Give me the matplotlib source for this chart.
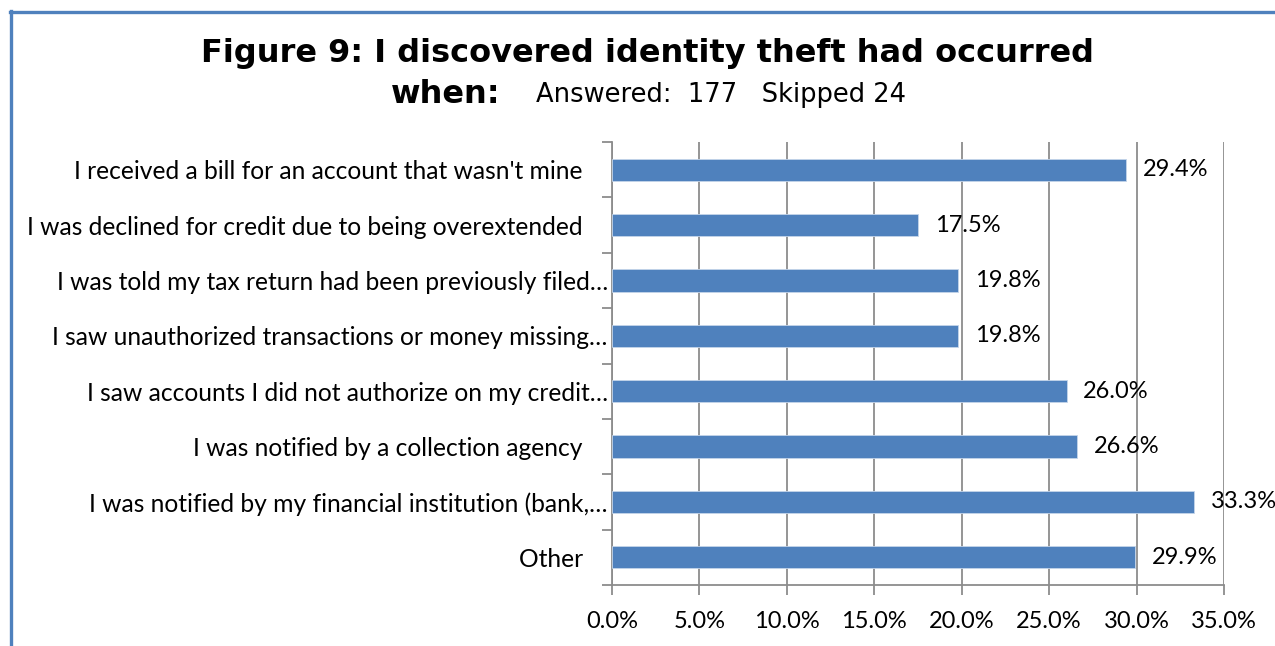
import matplotlib.pyplot as plt
from matplotlib.lines import Line2D
from matplotlib.ticker import FixedLocator, FuncFormatter

answers = [
    "I received a bill for an account that wasn't mine    ",
    "I was declined for credit due to being overextended    ",
    "I was told my tax return had been previously filed\u2026",
    "I saw unauthorized transactions or money missing\u2026",
    "I saw accounts I did not authorize on my credit\u2026",
    "I was notified by a collection agency    ",
    "I was notified by my financial institution (bank,\u2026",
    "Other    ",
]
percent = [29.4, 17.5, 19.8, 19.8, 26.0, 26.6, 33.3, 29.9]
x_ticks = [0, 5, 10, 15, 20, 25, 30, 35]

blue = "#4F81BD"
grid_gray = "#8C8C8C"
label_font = "Lato"

fig = plt.figure(figsize=(12.75, 6.46), dpi=100)
fig.patch.set_facecolor("white")

# frame around the figure: top and left edges only
fig.add_artist(Line2D([9.5 / 1275, 1.0], [1 - 12 / 646, 1 - 12 / 646],
                      transform=fig.transFigure, color=blue, lw=2.4))
fig.add_artist(Line2D([10.5 / 1275, 10.5 / 1275], [0.0, 1 - 11 / 646],
                      transform=fig.transFigure, color=blue, lw=2.4))

fig.text(0.508, 0.917, "Figure 9: I discovered identity theft had occurred",
         ha="center", va="center", fontsize=23, fontweight="bold",
         family="DejaVu Sans")
fig.text(500 / 1275, 0.853, "when:", ha="right", va="center", fontsize=23,
         fontweight="bold", family="DejaVu Sans")
fig.text(536 / 1275, 0.853, "Answered:  177   Skipped 24", ha="left",
         va="center", fontsize=18.5, family="DejaVu Sans")

ax = fig.add_axes([612 / 1275, 61 / 646, 612 / 1275, 443 / 646])
pos = list(range(len(answers)))
ax.barh(pos, percent, height=0.4, color=blue, edgecolor="#C5D5EA",
        linewidth=0.6, zorder=3)
ax.set_ylim(len(answers) - 0.5, -0.5)
ax.set_xlim(0, 35)

for p, v in zip(pos, percent):
    ax.annotate(f"{v:.1f}%", (v, p), xytext=(12, 0), textcoords="offset points",
                ha="left", va="center", fontsize=17, family=label_font,
                zorder=4)

ax.xaxis.set_major_locator(FixedLocator(x_ticks))
ax.xaxis.set_major_formatter(FuncFormatter(lambda v, _: f"{v:.1f}%"))
ax.grid(axis="x", color=grid_gray, lw=1.3, zorder=0)
ax.tick_params(axis="x", length=7, width=1.3, color=grid_gray, pad=12,
               labelsize=17)
for t in ax.get_xticklabels():
    t.set_family(label_font)

ax.set_yticks(pos)
ax.set_yticklabels(answers, fontsize=17.7, family=label_font)
ax.set_yticks([p - 0.5 for p in pos] + [len(answers) - 0.5], minor=True)
ax.tick_params(axis="y", which="major", length=0, pad=3)
ax.tick_params(axis="y", which="minor", length=7, width=1.3, color=grid_gray)

for side in ("top", "right"):
    ax.spines[side].set_visible(False)
for side in ("left", "bottom"):
    ax.spines[side].set_color(grid_gray)
    ax.spines[side].set_linewidth(1.3)

fig.savefig("out.png", dpi=100)
